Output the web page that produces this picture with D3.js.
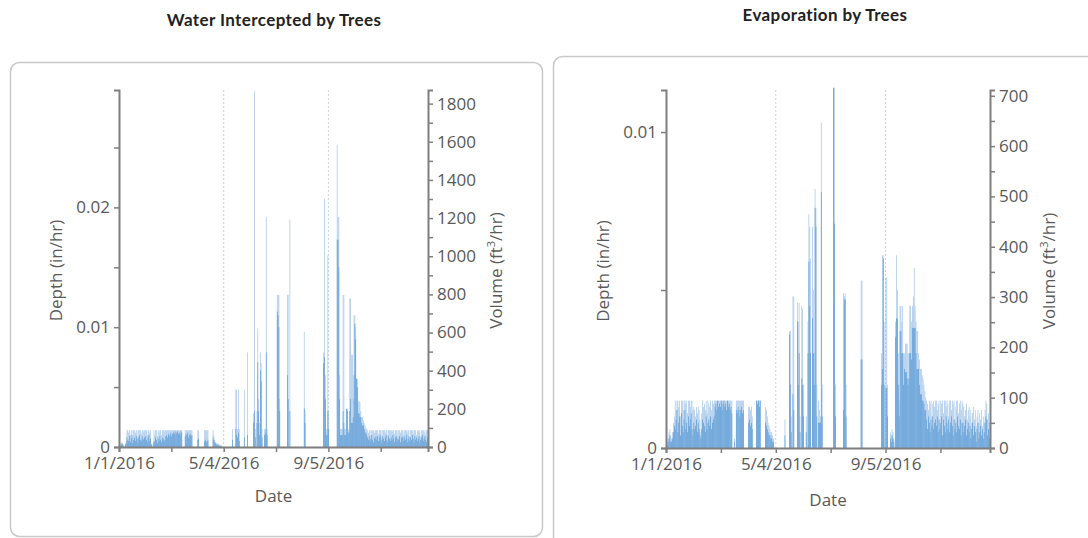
<!DOCTYPE html>
<html>
<head>
<meta charset="utf-8">
<script src="https://cdn.jsdelivr.net/npm/d3@7"></script>
<style>
  body { margin: 0; background: #fff; }
  svg { display: block; }
  .tick text { fill: #595959; font-family: "Open Sans", sans-serif; font-size: 17px; }
  .axis path, .axis line { stroke: #7f7f7f; }
</style>
</head>
<body>
<div id="chart"></div>
<script>
// values are in units of 1e-4 in/hr, one per day of 2016 (Jan 1 .. Dec 31)
const DEPTH_UNIT = 1e-4;
const volumePerDepth = 62800; // ft3/hr per in/hr over the tree canopy

const interceptMax = [
  0,2,3,4,3,2,0,3,5, 14,14,12,14,10,14,14,8,14,14,12,14,14,9,14,14,14,11,14,14,13,14,
  14,14,10,14,14,12,14, 3,0,4, 14,10,14,14,9,14,12,14,14,10,14,14,13,14, 14,14,14,14,14,
  14,14,14,14, 14,14,14,14,14,14,14,14,14,14,14, 0,0,0, 14,14,14,14,14,14,14,14,14, 0,0,0,0,
  0,0, 14,14, 0,0,0,0,0,0, 14,14,14,14,14, 0,0,0,0,0, 14,10,6,4,3, 3,3,2,2,1,
  1, 0,0,0,0,0,0,0,0,0,0,0,0, 15, 0,0,0, 48,48,15,48,15, 0,0,0,0,0, 48, 0,0,0,
  79, 0,0,0,0,0,0, 28,297,15,0,30,99,40,20,79,70,15,0,0,15,15,192,15, 0,0,0,0,0,0,
  0,0,0,0,0, 127,127,127,40, 0,0,0,0,0,0,0,0, 127,127,0,190, 0,0,0,0,0,0,0,0,0,0,
  0,0,0,0,0,0, 96,30, 0,0,0,0,0,0,0,0,0,0,0,0,0,0,0,0,0,0,0,0,0, 79,207,
  60,15,15,160,30, 0,0,0,0,0,0,0,0,0, 252,192,192,60,15,15,15,127,127,15,15,32,32,15,15,124,
  124,77,77,40,110,110,100,57,57,38,38,38,30,25,25,22,20,18,16,15, 14,12,14,14,10,14,14,14,12,14,14,
  14,14,11,14,14,14,9,14,14,14,12,14,14,10,14,14,14,14,13,14,14,11,14,14,14,9,14,14,12,14,
  14,14,10,14,14,14,12,14,14,8,14,14,14,11,14,14,14,10,14,14,13,14,9,14,14,14,12,14,10,14,14
];
const interceptMean = [
  0,1,2,3,2,1,0,2,3, 8,6,5,9,4,7,10,3,6,8,5,9,7,4,8,10,6,5,9,7,6,8,
  9,6,4,8,10,5,7, 2,0,2, 5,4,8,6,3,7,5,9,6,4,8,7,5,6, 9,10,8,11,9,
  10,12,9,11, 12,11,13,10,12,13,11,12,10,13,12, 0,0,0, 9,11,10,12,8,10,11,9,10, 0,0,0,0,
  0,0, 6,7, 0,0,0,0,0,0, 5,6,4,5,6, 0,0,0,0,0, 8,6,4,3,2, 2,2,1,1,1,
  1, 0,0,0,0,0,0,0,0,0,0,0,0, 6, 0,0,0, 15,10,8,12,5, 0,0,0,0,0, 8, 0,0,0,
  10, 0,0,0,0,0,0, 20,30,8,0,20,71,30,10,64,55,8,0,0,10,12,79,10, 0,0,0,0,0,0,
  0,0,0,0,0, 113,110,100,30, 0,0,0,0,0,0,0,0, 60,40,0,30, 0,0,0,0,0,0,0,0,0,0,
  0,0,0,0,0,0, 32,20, 0,0,0,0,0,0,0,0,0,0,0,0,0,0,0,0,0,0,0,0,0, 70,75,
  40,10,10,30,15, 0,0,0,0,0,0,0,0,0, 173,173,150,40,10,10,10,30,20,10,10,32,30,12,12,30,
  40,20,20,25,60,103,90,57,50,28,28,25,25,20,18,18,15,12,12,10, 8,6,9,5,7,10,6,4,8,7,9,
  6,9,5,8,10,4,6,9,7,5,8,10,6,4,9,7,5,8,6,10,7,4,8,9,5,7,6,9,4,8,
  7,9,5,8,6,10,4,7,9,5,8,6,10,7,4,9,6,8,5,7,9,4,6,8,10,5,7,9,6,4,8
];
const evapMax = [
  0,2,3,5,6,4,3,5,8,10, 15,12,15,15,13,15,10,15,15,12,15,15,14,15,11,15,15,13,15,15,12,
  13,12,10,13,11,13,12,9, 5, 11,15,13,14,12,15,11,15,14,13,15,12,15,14,15, 15,15,15,15,15,
  15,15,15,15,15,15,15,15,15,15,15,15,15,15,15, 0,0,3,0, 15,15,15,15,15,15,15,15,15, 0,0,0,
  0,0, 13,13,12,13,10, 0,0,0,0, 15,15,15,15,15, 0,0,0,0,0, 13,12,10,8,7,6,5,5,4,
  3, 0,0,0,0,0,0,0,0,0,0,0,0, 9, 0,0,0,0, 37,37,10,0,48,48, 0,0,0, 46,40,46,10,
  0,45,44,20,0,0,10,0,40,74,70,60,0,70,50,30,82,76,20,0,15,12,10,103,20, 0,0,0,0,0,
  0,0,0,0,0,0,0, 114,114,20, 0,0,0,0,0,0,0,0, 49,48,49,20, 0,0,0,0,0,0,0,0,0,
  0,0,0,0,0,0,0, 53,53, 0,0,0,0,0,0,0,0,0,0,0,0,0,0,0,0,0,0,0,0,0, 30,
  61,61,40,0,54,54,20,0,0, 5,4,6,5,3, 0, 40,61,50,30,15,45,45,40,45,30,30,33,33,33,30,
  30,45,45,40,45,48,57,45,40,37,37,30,28,25,25,23,22,20,18,16, 15,14,12,15,14,15,10,14,15,13,15,
  15,12,14,15,9,15,14,15,11,15,15,13,15,14,10,15,15,12,15,14,15,9,13,15,15,11,14,15,12,15,
  14,13,10,12,14,9,12,13,10,12,8,11,13,9,12,7,10,12,8,11,9,12,7,10,8,12,15,14,9,11,8
];
const evapMean = [
  0,1,2,3,4,2,2,3,5,7, 6,9,12,5,8,10,4,11,7,5,9,12,6,8,5,10,7,9,11,6,4,
  8,6,7,9,5,8,6,4, 3, 6,9,8,7,5,10,6,8,9,7,10,6,8,9,10, 13,14,12,15,13,
  14,13,15,12,14,15,13,14,12,15,13,14,12,13,11, 0,0,2,0, 12,11,13,12,10,12,13,11,12, 0,0,0,
  0,0, 8,9,7,8,6, 0,0,0,0, 15,14,15,13,15, 0,0,0,0,0, 8,7,6,5,4,4,3,3,2,
  2, 0,0,0,0,0,0,0,0,0,0,0,0, 4, 0,0,0,0, 36,20,5,0,17,12, 0,0,0, 40,20,30,5,
  0,22,20,10,0,0,5,0,30,59,45,30,0,41,30,20,76,70,10,0,8,8,8,81,10, 0,0,0,0,0,
  0,0,0,0,0,0,0, 114,71,10, 0,0,0,0,0,0,0,0, 12,47,47,10, 0,0,0,0,0,0,0,0,0,
  0,0,0,0,0,0,0, 28,28, 0,0,0,0,0,0,0,0,0,0,0,0,0,0,0,0,0,0,0,0,0, 20,
  25,60,20,0,19,19,10,0,0, 3,2,4,3,2, 0, 35,41,41,20,10,37,37,30,30,20,25,24,24,22,20,
  22,30,30,28,38,38,38,38,30,25,25,25,20,17,17,15,15,14,12,12, 9,6,10,8,5,9,7,10,6,8,9,
  7,10,5,9,6,8,10,4,9,7,5,10,8,6,9,5,8,10,7,4,9,6,8,5,10,7,6,9,4,8,
  8,5,7,9,4,6,8,5,7,3,6,8,4,7,5,2,6,8,3,5,7,4,6,3,5,8,10,9,4,6,3
];

const majorDates = [new Date(2016, 0, 1), new Date(2016, 4, 4), new Date(2016, 8, 5)];
const minorDates = [new Date(2016, 2, 3), new Date(2016, 6, 5), new Date(2016, 10, 6)];
const dateDomain = [new Date(2016, 0, 1), new Date(2017, 0, 1)];
const fmtDate = d3.timeFormat("%-m/%-d/%Y");

const panels = [
  {
    title: "Water Intercepted by Trees", titleX: 274, titleY: 26,
    card: { x: 10.5, y: 62.5, w: 532, h: 474 },
    left: 119, right: 428, top: 90, bottom: 447,
    depthMax: 0.0298, depthTicks: [0, 0.01, 0.02], depthMinor: [0.005, 0.015, 0.025],
    volTicks: d3.range(0, 1801, 200), volMinor: d3.range(100, 1801, 200),
    maxVals: interceptMax, meanVals: interceptMean,
    depthLabelX: 62, volLabelX: 502, dateY: 502
  },
  {
    title: "Evaporation by Trees", titleX: 825, titleY: 21,
    card: { x: 553.5, y: 56.5, w: 545, h: 500 },
    left: 666, right: 990, top: 90, bottom: 448,
    depthMax: 0.01133, depthTicks: [0, 0.01], depthMinor: [0.005],
    volTicks: d3.range(0, 701, 100), volMinor: d3.range(50, 701, 100),
    maxVals: evapMax, meanVals: evapMean,
    depthLabelX: 609, volLabelX: 1055, dateY: 506
  }
];

const svg = d3.select("#chart").append("svg")
  .attr("width", 1088).attr("height", 538);

panels.forEach(drawPanel);

function drawPanel(p) {
  const g = svg.append("g");

  g.append("rect")
    .attr("x", p.card.x).attr("y", p.card.y)
    .attr("width", p.card.w).attr("height", p.card.h)
    .attr("rx", 9)
    .attr("fill", "#fff").attr("stroke", "#c9c9c9").attr("stroke-width", 1.5);

  g.append("text")
    .attr("x", p.titleX).attr("y", p.titleY)
    .attr("text-anchor", "middle")
    .attr("font-family", "Lato, sans-serif").attr("font-weight", "bold")
    .attr("font-size", 17).attr("letter-spacing", 0.4).attr("fill", "#222")
    .text(p.title);

  const x = d3.scaleTime().domain(dateDomain).range([p.left, p.right]);
  const y = d3.scaleLinear().domain([0, p.depthMax]).range([p.bottom, p.top]);
  const yVol = d3.scaleLinear().domain([0, p.depthMax * volumePerDepth]).range([p.bottom, p.top]);

  // dotted guides at the labelled dates
  g.selectAll(".guide").data(majorDates.slice(1)).enter()
    .append("line")
    .attr("x1", d => x(d)).attr("x2", d => x(d))
    .attr("y1", p.top).attr("y2", p.bottom)
    .attr("stroke", "#cfcfcf").attr("stroke-width", 1)
    .attr("stroke-dasharray", "2,2");

  const days = p.maxVals.map((v, i) => ({
    date: d3.timeDay.offset(dateDomain[0], i),
    max: v * DEPTH_UNIT,
    mean: p.meanVals[i] * DEPTH_UNIT
  }));
  const barW = d => Math.max(0.6, (x(d3.timeDay.offset(d.date, 1)) - x(d.date)) * 0.8);

  g.append("g").selectAll("rect").data(days.filter(d => d.max > 0)).enter()
    .append("rect")
    .attr("x", d => x(d.date)).attr("width", barW)
    .attr("y", d => y(d.max)).attr("height", d => p.bottom - y(d.max))
    .attr("fill", "#a2c4e9");

  g.append("g").selectAll("rect").data(days.filter(d => d.mean > 0)).enter()
    .append("rect")
    .attr("x", d => x(d.date)).attr("width", barW)
    .attr("y", d => y(d.mean)).attr("height", d => p.bottom - y(d.mean))
    .attr("fill", "#5b9bd5");

  // axes
  const fmtDepth = d => d === 0 ? "0" : d3.format(".2f")(d);

  const yl = g.append("g").attr("class", "axis").attr("transform", `translate(${p.left},0)`);
  yl.call(d3.axisLeft(y).tickValues(p.depthTicks).tickFormat(fmtDepth).tickSize(5).tickPadding(4));
  yl.append("g").call(d3.axisLeft(y).tickValues(p.depthMinor).tickFormat("").tickSize(5))
    .select(".domain").remove();

  const yr = g.append("g").attr("class", "axis").attr("transform", `translate(${p.right},0)`);
  yr.call(d3.axisRight(yVol).tickValues(p.volTicks).tickFormat(d3.format("d")).tickSize(5).tickPadding(4));
  yr.append("g").call(d3.axisRight(yVol).tickValues(p.volMinor).tickFormat("").tickSize(5))
    .select(".domain").remove();

  const xa = g.append("g").attr("class", "axis").attr("transform", `translate(0,${p.bottom})`);
  xa.call(d3.axisBottom(x).tickValues(majorDates).tickFormat(fmtDate).tickSize(5).tickPadding(5));
  xa.append("g").call(d3.axisBottom(x).tickValues(minorDates).tickFormat("").tickSize(5))
    .select(".domain").remove();

  g.selectAll(".axis .domain").attr("stroke-width", 2).attr("stroke", "#7f7f7f");
  g.selectAll(".axis .tick line").attr("stroke-width", 1.5);

  const labelStyle = sel => sel
    .attr("text-anchor", "middle")
    .attr("font-family", "'Open Sans', sans-serif")
    .attr("font-size", 17).attr("fill", "#595959");

  g.append("text").call(labelStyle)
    .attr("transform", `translate(${p.depthLabelX},${(p.top + p.bottom) / 2 + 2}) rotate(-90)`)
    .text("Depth (in/hr)");

  const vt = g.append("text").call(labelStyle)
    .attr("transform", `translate(${p.volLabelX},${(p.top + p.bottom) / 2 + 2}) rotate(-90)`);
  vt.append("tspan").text("Volume (ft");
  vt.append("tspan").attr("baseline-shift", "super").attr("font-size", 11).text("3");
  vt.append("tspan").text("/hr)");

  g.append("text").call(labelStyle)
    .attr("x", (p.left + p.right) / 2).attr("y", p.dateY)
    .text("Date");
}
</script>
</body>
</html>
